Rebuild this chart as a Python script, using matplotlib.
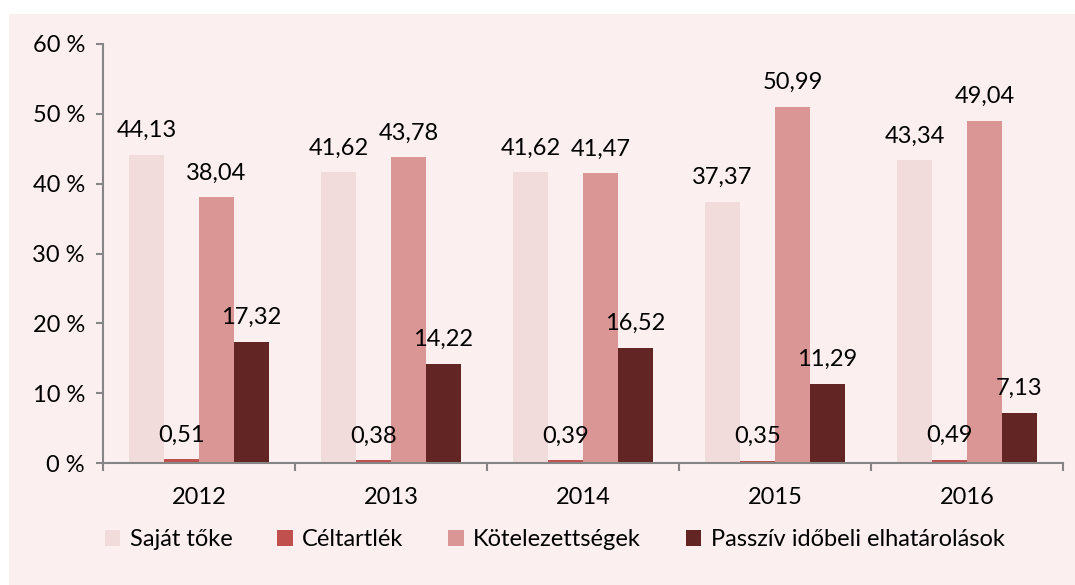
import matplotlib
matplotlib.use("Agg")
import matplotlib.pyplot as plt
from matplotlib.patches import Rectangle
import numpy as np

plt.rcParams['font.family'] = ['Lato', 'DejaVu Sans']

years = ["2012", "2013", "2014", "2015", "2016"]
series_names = ["Saját tőke", "Céltartlék", "Kötelezettségek", "Passzív időbeli elhatárolások"]
sajat = [44.13, 41.62, 41.62, 37.37, 43.34]
celtartalek = [0.51, 0.38, 0.39, 0.35, 0.49]
kotelezettseg = [38.04, 43.78, 41.47, 50.99, 49.04]
passziv = [17.32, 14.22, 16.52, 11.29, 7.13]
yticks = [0, 10, 20, 30, 40, 50, 60]
colors = ["#f2dcdb", "#c0504d", "#d99694", "#632523"]

FS = 17

fig = plt.figure(figsize=(10.75, 5.85), dpi=100)
fig.patch.set_facecolor("white")
fig.patches.append(Rectangle((9/1075, 0), 1 - 9/1075, (585-14)/585, transform=fig.transFigure,
                             facecolor="#fcefef", edgecolor="none", zorder=-10))
ax = fig.add_axes([103/1075, 1-463/585, (1063-103)/1075, (463-44)/585])
ax.set_facecolor("none")

x = np.arange(len(years))
w = 35/192
data = [sajat, celtartalek, kotelezettseg, passziv]
for i, (vals, c, name) in enumerate(zip(data, colors, series_names)):
    pos = x + (i - 1.5) * w
    bars = ax.bar(pos, vals, width=w, color=c, label=name, zorder=2)
    for b, v in zip(bars, vals):
        ax.annotate(f"{v:.2f}".replace(".", ","), (b.get_x() + b.get_width()/2, v),
                    xytext=(0, 10), textcoords="offset points", ha="center", va="bottom",
                    fontsize=FS, color="black")

ax.set_xlim(-0.5, len(years) - 0.5)
ax.set_ylim(0, 60)
ax.set_yticks(yticks)
ax.set_yticklabels([f"{t} %" for t in yticks], fontsize=FS)
ax.set_xticks(x)
ax.set_xticklabels(years, fontsize=FS)
ax.set_xticks(np.arange(len(years) + 1) - 0.5, minor=True)
ax.tick_params(axis="x", which="major", length=0, pad=17)
ax.tick_params(axis="x", which="minor", length=6, color="#868686", width=1.5)
ax.tick_params(axis="y", length=5, color="#868686", width=1.5, pad=8)
for s in ["top", "right"]:
    ax.spines[s].set_visible(False)
for s in ["left", "bottom"]:
    ax.spines[s].set_color("#868686")
    ax.spines[s].set_linewidth(1.5)

fig.legend(loc="center", bbox_to_anchor=(0.516, 1-540/585), ncol=4, frameon=False,
           fontsize=FS, handlelength=0.65, handleheight=0.65, handletextpad=0.4,
           columnspacing=1.9)

fig.savefig("out.png", dpi=100)
